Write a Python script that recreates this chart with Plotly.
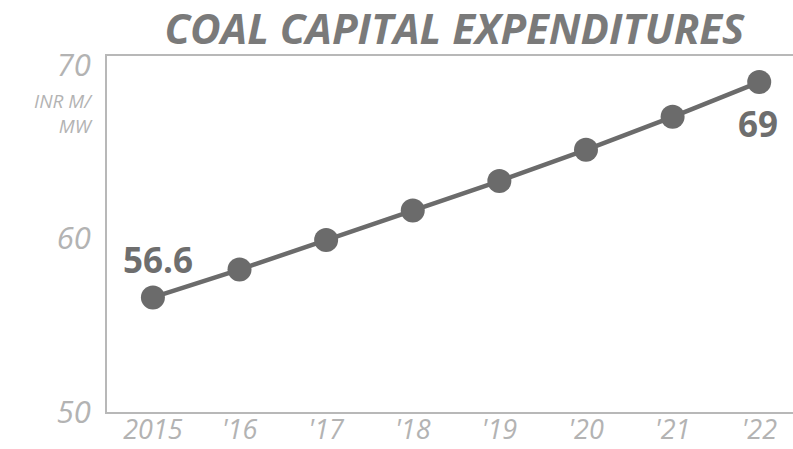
import plotly.graph_objects as go

years = [2015, 2016, 2017, 2018, 2019, 2020, 2021, 2022]
tick_labels = ["2015", "'16", "'17", "'18", "'19", "'20", "'21", "'22"]
capex = [56.6, 58.2, 59.9, 61.6, 63.3, 65.1, 67.0, 69.0]
y_ticks = [50, 60, 70]

line_col = "#6b6b6b"
axis_col = "#b8b8b8"
tick_col = "#b3b3b3"

fig = go.Figure()
fig.add_trace(go.Scatter(
    x=years, y=capex, mode="lines+markers",
    line=dict(color=line_col, width=4.5),
    marker=dict(color=line_col, size=24),
    hoverinfo="skip", showlegend=False,
))

# value labels on the first and last points
fig.add_annotation(x=years[0], y=capex[0], text="<b>56.6</b>", showarrow=False,
                   xanchor="center", yanchor="bottom", xshift=5, yshift=12,
                   font=dict(family="Open Sans", size=35, color="#6e6e6e"))
fig.add_annotation(x=years[-1], y=capex[-1], text="<b>69</b>", showarrow=False,
                   xanchor="center", yanchor="top", xshift=-1, yshift=-16,
                   font=dict(family="Open Sans", size=35, color="#6e6e6e"))

# unit label under the top tick
fig.add_annotation(xref="paper", yref="paper", x=-0.017, y=0.915,
                   text="<i>INR M/<br>MW</i>", showarrow=False,
                   xanchor="right", yanchor="top", align="right",
                   font=dict(family="Open Sans", size=19, color=tick_col))

fig.update_layout(
    width=793, height=449,
    margin=dict(l=107, r=0, t=56, b=37, autoexpand=False),
    paper_bgcolor="white", plot_bgcolor="white",
    title=dict(text="<b><i>COAL CAPITAL EXPENDITURES</i></b>",
               x=0.573, xanchor="center", y=0.935, yanchor="middle",
               font=dict(family="Open Sans", size=42, color="#7a7a7a")),
    xaxis=dict(range=[2014.47, 2022.39], tickvals=years,
               ticktext=["<i>%s</i>" % t for t in tick_labels],
               showgrid=False, zeroline=False, showline=True, mirror=True,
               linecolor=axis_col, linewidth=2, ticks="",
               ticklabelstandoff=-7, automargin=False,
               tickfont=dict(family="Open Sans", size=27, color=tick_col)),
    yaxis=dict(range=[50, 70.5], tickvals=y_ticks,
               ticktext=["<i>%d</i>" % v for v in y_ticks],
               showgrid=False, zeroline=False, showline=True, mirror=False,
               linecolor=axis_col, linewidth=2, ticks="outside",
               ticklen=8, tickcolor="rgba(0,0,0,0)", automargin=False,
               tickfont=dict(family="Open Sans", size=31, color=tick_col)),
)

fig.write_html("out.html")
